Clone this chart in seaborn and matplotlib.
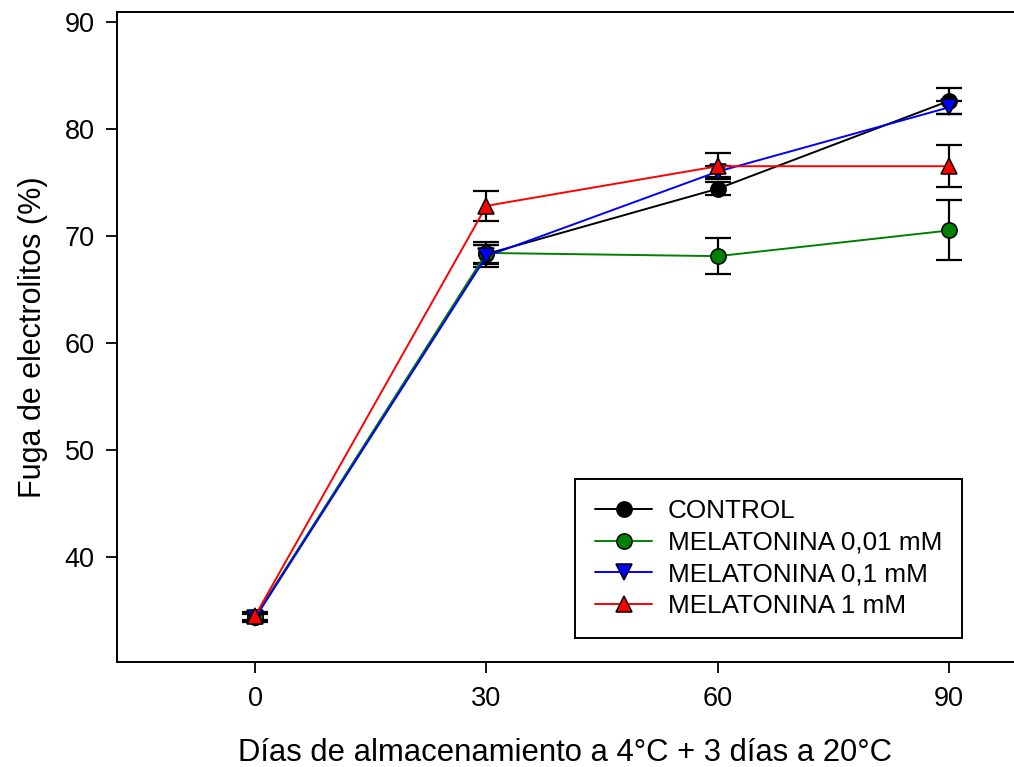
import matplotlib
matplotlib.use("Agg")
import matplotlib.pyplot as plt
import seaborn as sns
import pandas as pd
import numpy as np

days = [0, 30, 60, 90]
series_names = ["CONTROL", "MELATONINA 0,01 mM", "MELATONINA 0,1 mM", "MELATONINA 1 mM"]
control = [34.4, 68.3, 74.4, 82.6]
control_err = [0.4, 0.8, 0.6, 1.2]
mel_001 = [34.4, 68.4, 68.1, 70.5]
mel_001_err = [0.4, 1.0, 1.65, 2.8]
mel_01 = [34.3, 68.1, 76.0, 82.0]
mel_01_err = [0.4, 1.0, 0.5, 0.6]
mel_1 = [34.5, 72.8, 76.5, 76.5]
mel_1_err = [0.4, 1.4, 1.2, 1.95]

colors = ["black", "green", "blue", "red"]
markers = ["o", "o", "v", "^"]
values = [control, mel_001, mel_01, mel_1]
errors = [control_err, mel_001_err, mel_01_err, mel_1_err]

sns.set_style("ticks")
plt.rcParams['font.family'] = ['Liberation Sans', 'DejaVu Sans']
plt.rcParams['text.color'] = 'black'
plt.rcParams['axes.labelcolor'] = 'black'
plt.rcParams['xtick.color'] = 'black'
plt.rcParams['ytick.color'] = 'black'

fig = plt.figure(figsize=(10.14, 7.67), dpi=100)
W, H = 1014, 767
left_px, right_px, top_px, bottom_px = 117, 1014, 12, 662
ax = fig.add_axes([left_px / W, 1 - bottom_px / H, (right_px - left_px) / W, (bottom_px - top_px) / H])

for name, vals, errs, col, mk in zip(series_names, values, errors, colors, markers):
    df = pd.DataFrame({"x": days, "y": vals})
    ax.errorbar(days, vals, yerr=errs, fmt="none", ecolor="black", elinewidth=1.6,
                capsize=9.5, capthick=1.6, zorder=2)
    sns.lineplot(data=df, x="x", y="y", ax=ax, color=col, lw=1.4, marker=mk,
                 markersize=11, markerfacecolor=col, markeredgecolor="black",
                 markeredgewidth=1.1, zorder=3, label=name)

ax.set_xlim(-17.9, 98.4)
ax.set_ylim(30.2, 90.9)
ax.set_xticks(days)
ax.set_yticks([40, 50, 60, 70, 80, 90])
ax.tick_params(axis="both", labelsize=19.5, length=8, width=1.3, direction="out", pad=9)
ax.tick_params(axis="y", pad=8)
ax.spines["right"].set_visible(False)
for s in ["left", "bottom", "top"]:
    ax.spines[s].set_linewidth(1.4)
    ax.spines[s].set_color("black")

ax.set_xlabel("Días de almacenamiento a 4°C + 3 días a 20°C", fontsize=22.3, labelpad=19)
ax.set_ylabel("Fuga de electrolitos (%)", fontsize=22, labelpad=12)

leg = ax.legend(loc="lower right", bbox_to_anchor=((962 - left_px) / (right_px - left_px), (662 - 638) / (bottom_px - top_px)),
                fontsize=18.8, frameon=True, fancybox=False, framealpha=1, edgecolor="black",
                handlelength=2.2, borderpad=0.75, labelspacing=0.3, handletextpad=0.6, borderaxespad=0)
leg.get_frame().set_linewidth(1.4)

fig.savefig("out.png", dpi=100)
